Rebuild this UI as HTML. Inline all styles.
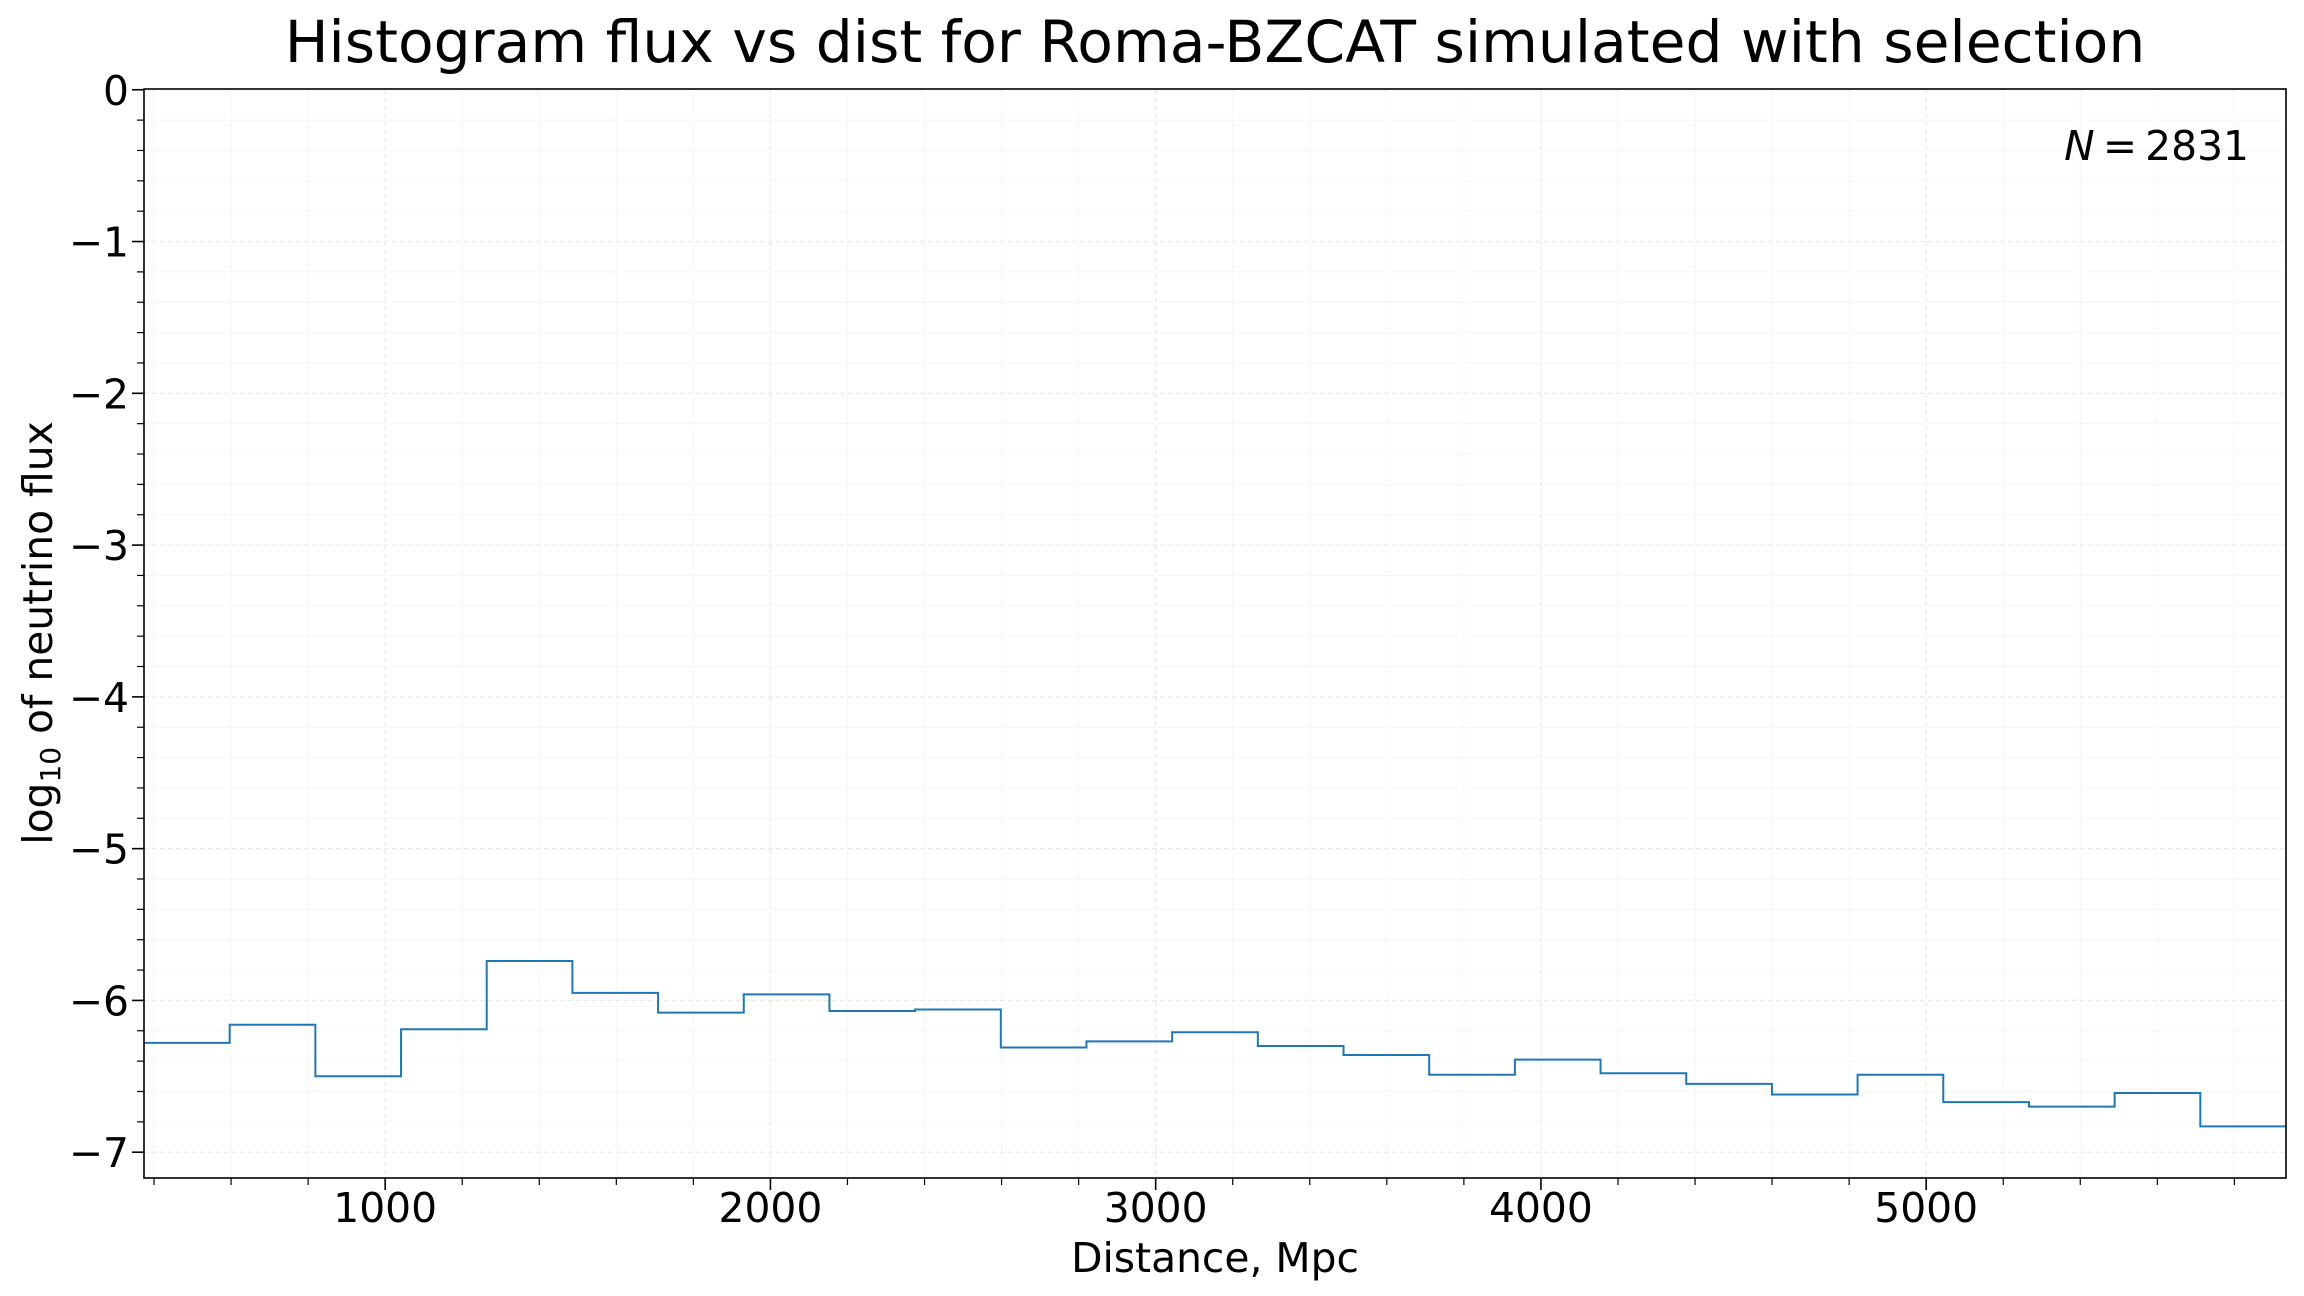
<!DOCTYPE html>
<html><head><meta charset="utf-8"><style>
html,body{margin:0;padding:0;background:#fff;}
svg{display:block;font-family:"DejaVu Sans","Liberation Sans",sans-serif;}
</style></head><body>
<svg id="chart" width="2304" height="1296" viewBox="0 0 2304 1296">
<rect width="2304" height="1296" fill="#fff"/>
<text x="1215" y="62" font-size="58.3" text-anchor="middle" fill="#000">Histogram flux vs dist for Roma-BZCAT simulated with selection</text>
<g id="grid"></g>
<g id="ticks"></g>
<path id="hist" fill="none" stroke="#1f77b4" stroke-width="2"/>
<rect x="144" y="89" width="2142" height="1089" fill="none" stroke="#000" stroke-width="1.6"/>
<text x="2249" y="160" font-size="40.8" text-anchor="end" fill="#000"><tspan font-style="italic">N</tspan>&#8201;=&#8201;2831</text>
<text x="1215" y="1272" font-size="40.8" text-anchor="middle" fill="#000">Distance, Mpc</text>
<text transform="translate(52,633) rotate(-90)" font-size="40.8" text-anchor="middle" fill="#000">log<tspan font-size="28" dy="8">10</tspan><tspan dy="-8"> of neutrino flux</tspan></text>
</svg>
<script>
const binStart = 374;
const binWidth = 222.4;
const fluxValues = [-6.28,-6.16,-6.50,-6.19,-5.74,-5.95,-6.08,-5.96,-6.07,-6.06,-6.31,-6.27,-6.21,-6.30,-6.36,-6.49,-6.39,-6.48,-6.55,-6.62,-6.49,-6.67,-6.70,-6.61,-6.83];
const xTickValues = [1000,2000,3000,4000,5000];
const yTickValues = [0,-1,-2,-3,-4,-5,-6,-7];
const xMin = 374, xMax = 5934, yMin = -7.17, yMax = 0.005;
const L=144,R=2286,T=89,B=1178;
function sx(v){return L+(v-xMin)/(xMax-xMin)*(R-L);}
function sy(v){return B-(v-yMin)/(yMax-yMin)*(B-T);}
const NS='http://www.w3.org/2000/svg';
const grid=document.getElementById('grid'), ticks=document.getElementById('ticks');
function line(p,x1,y1,x2,y2,st,w,dash){const l=document.createElementNS(NS,'line');l.setAttribute('x1',x1);l.setAttribute('y1',y1);l.setAttribute('x2',x2);l.setAttribute('y2',y2);l.setAttribute('stroke',st);l.setAttribute('stroke-width',w);if(dash)l.setAttribute('stroke-dasharray',dash);p.appendChild(l);return l;}
for(let v=400;v<=5900;v+=200){const x=sx(v);const major=v%1000===0;
 const g=line(grid,x,T,x,B,major?'#ebebeb':'#f6f6f6',major?1.3:1,major?'5,3':null);
 
 
 const t=line(ticks,x,B,x,B+(major?12:7),'#000',major?1.6:1.2);
 
 }
for(let i=0;i<=35;i++){const v=-i*0.2;if(v<yMin)break;const y=sy(v);const major=i%5===0;
 const g=line(grid,L,y,R,y,major?'#ebebeb':'#f6f6f6',major?1.3:1,major?'5,3':null);
 
 
 const t=line(ticks,L,y,L-(major?12:7),y,'#000',major?1.6:1.2);
 
 }
xTickValues.forEach(v=>{const t=document.createElementNS(NS,'text');t.setAttribute('x',sx(v));t.setAttribute('y',1222);t.setAttribute('font-size','40.8');t.setAttribute('text-anchor','middle');t.textContent=v;
 
 
 ticks.appendChild(t);});
yTickValues.forEach(v=>{const t=document.createElementNS(NS,'text');t.setAttribute('x',129);t.setAttribute('y',sy(v)+15);t.setAttribute('font-size','40.8');t.setAttribute('text-anchor','end');t.textContent=v<0?'\u2212'+(-v):'0';
 
 
 ticks.appendChild(t);});
let d='';
fluxValues.forEach((v,i)=>{const x0=sx(binStart+i*binWidth),x1=sx(binStart+(i+1)*binWidth),y=sy(v);d+=(i===0?'M'+x0+','+y:'L'+x0+','+y)+'L'+x1+','+y;});
document.getElementById('hist').setAttribute('d',d);
</script>
</body></html>
